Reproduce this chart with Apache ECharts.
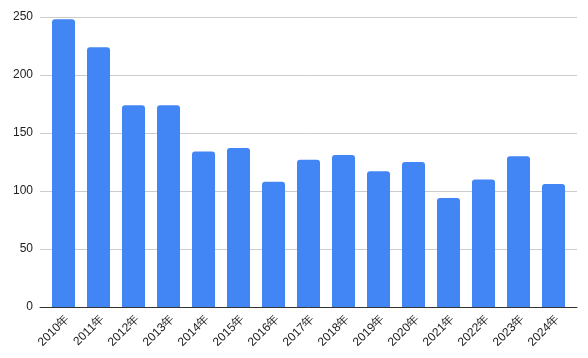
<!DOCTYPE html>
<html><head><meta charset="utf-8">
<script src="https://cdn.jsdelivr.net/npm/echarts@6/dist/echarts.min.js"></script>
<style>html,body{margin:0;padding:0;background:#fff}#c{width:588px;height:358px}</style>
</head><body><div id="c"></div>
<script>
const categories = ['2010年','2011年','2012年','2013年','2014年','2015年','2016年','2017年','2018年','2019年','2020年','2021年','2022年','2023年','2024年'];
const values = [248, 224, 174, 174, 134, 137, 108, 127, 131, 117, 125, 94, 110, 130, 106];
const yMin = 0, yMax = 250, yStep = 50;

const chart = echarts.init(document.getElementById('c'));
const font = 'Arial, "Liberation Sans", sans-serif';
chart.setOption({
  animation: false,
  grid: [
    {left: 40, right: 11, top: 17, bottom: 51},
    {left: 46, right: 17, top: 17, bottom: 51},
    {left: 50, right: 13, top: 17, bottom: 51}
  ],
  xAxis: [
    {gridIndex: 0, type: 'category', data: categories, axisLine: {show: true, lineStyle: {color: '#333', width: 1}}, axisTick: {show: false}, axisLabel: {show: false}},
    {gridIndex: 1, type: 'category', data: categories, axisLine: {show: false}, axisTick: {show: false}, axisLabel: {show: false}},
    {gridIndex: 2, type: 'category', data: categories, axisLine: {show: false}, axisTick: {show: false},
     axisLabel: {rotate: 45, interval: 0, fontSize: 12, color: '#222', fontFamily: font, margin: 10}}
  ],
  yAxis: [
    {gridIndex: 0, type: 'value', min: yMin, max: yMax, interval: yStep,
     axisLine: {show: false}, axisTick: {show: false},
     axisLabel: {fontSize: 12, color: '#222', fontFamily: font, margin: 7},
     splitLine: {lineStyle: {color: '#cccccc', width: 1}}},
    {gridIndex: 1, type: 'value', min: yMin, max: yMax, interval: yStep, show: false, splitLine: {show: false}},
    {gridIndex: 2, type: 'value', min: yMin, max: yMax, interval: yStep, show: false, splitLine: {show: false}}
  ],
  series: [{
    type: 'bar', xAxisIndex: 1, yAxisIndex: 1, data: values, barWidth: 23,
    itemStyle: {color: '#4285F4', borderRadius: [3, 3, 0, 0]}
  }]
});
</script></body></html>
